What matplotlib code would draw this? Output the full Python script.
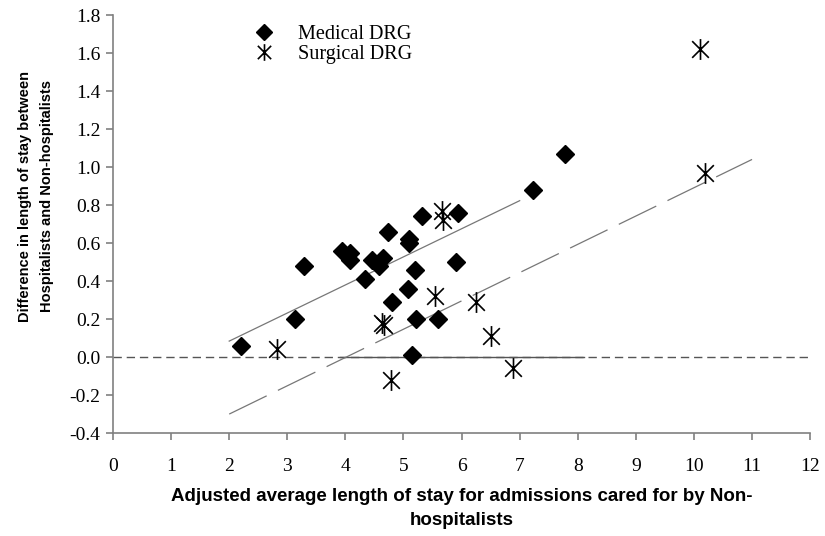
import matplotlib
matplotlib.use("Agg")
import matplotlib.pyplot as plt
from matplotlib.path import Path
from matplotlib.lines import Line2D

# Medical DRG points
med_x = [2.21, 3.13, 3.29, 3.94, 4.08, 4.08, 4.33, 4.45, 4.57, 4.65, 4.73, 4.81,
         5.07, 5.09, 5.09, 5.20, 5.22, 5.15, 5.32, 5.60, 5.93, 5.90, 7.23, 7.78]
med_y = [0.06, 0.20, 0.48, 0.56, 0.55, 0.51, 0.41, 0.51, 0.48, 0.52, 0.66, 0.29,
         0.36, 0.62, 0.60, 0.46, 0.20, 0.01, 0.74, 0.20, 0.76, 0.50, 0.88, 1.07]

# Surgical DRG points
surg_x = [2.82, 4.63, 4.67, 4.78, 5.55, 5.67, 5.68, 6.25, 6.50, 6.89, 10.10, 10.19]
surg_y = [0.04, 0.18, 0.17, -0.12, 0.32, 0.77, 0.72, 0.29, 0.11, -0.06, 1.62, 0.97]

# trend lines (end points)
med_fit_x = [2.0, 7.0]
med_fit_y = [0.084, 0.823]
surg_fit_x = [2.0, 11.0]
surg_fit_y = [-0.30, 1.04]

# zero reference line
zero_x = [0, 12]
zero_solid_x = [3.9, 8.1]

xticks = list(range(0, 13))
yticks = [-0.4, -0.2, 0.0, 0.2, 0.4, 0.6, 0.8, 1.0, 1.2, 1.4, 1.6, 1.8]

plt.rcParams['lines.scale_dashes'] = False

# asterisk marker: vertical bar plus an X
star = Path([(0, -1), (0, 1), (-0.8, -0.8), (0.8, 0.8), (-0.8, 0.8), (0.8, -0.8)],
            [Path.MOVETO, Path.LINETO, Path.MOVETO, Path.LINETO, Path.MOVETO, Path.LINETO])

fig = plt.figure(figsize=(8.25, 5.36), dpi=100)
ax = fig.add_axes([0.137, 0.192, 0.845, 0.78])

ax.plot(zero_x, [0, 0], color='#555555', lw=1.0, dashes=(6, 3.5))
ax.plot(zero_solid_x, [0, 0], color='#555555', lw=1.0)
ax.plot(med_fit_x, med_fit_y, color='#777777', lw=0.9)
ax.plot(surg_fit_x, surg_fit_y, color='#777777', lw=0.9, dashes=(30, 9))

ax.plot(med_x, med_y, ls='none', marker='D', ms=9, color='black', label='Medical DRG')
ax.plot(surg_x, surg_y, ls='none', marker=star, ms=15, mew=1.2, color='black',
        mfc='none', label='Surgical DRG')

ax.set_xlim(0, 12)
ax.set_ylim(-0.4, 1.8)
ax.set_xticks(xticks)
ax.set_yticks(yticks)
ax.set_yticklabels([f"{v:.1f}" for v in yticks])

for side in ['top', 'right']:
    ax.spines[side].set_visible(False)
for side in ['left', 'bottom']:
    ax.spines[side].set_color('#808080')
    ax.spines[side].set_linewidth(1.2)

ax.tick_params(axis='both', direction='out', length=5, width=1.2, color='#808080')
ax.tick_params(axis='x', pad=13)
ax.tick_params(axis='y', pad=4)
for lab in ax.get_xticklabels() + ax.get_yticklabels():
    lab.set_fontfamily('Liberation Serif')
    lab.set_fontsize(14)

ax.set_xlabel("Adjusted average length of stay for admissions cared for by Non-\nhospitalists",
              family='Liberation Sans', weight='bold', size=13.5, linespacing=1.5)
ax.xaxis.set_label_coords(0.5, -0.132)
ax.set_ylabel("Difference in length of stay between\nHospitalists and Non-hospitalists",
              family='Liberation Sans', weight='bold', size=10.5, linespacing=1.7)
ax.yaxis.set_label_coords(-0.085, 0.567)

handles = [Line2D([], [], ls='none', marker='D', ms=8, color='black'),
           Line2D([], [], ls='none', marker=star, ms=12, mew=1.2, color='black')]
ax.legend(handles, ['Medical DRG', 'Surgical DRG'], loc='upper left',
          bbox_to_anchor=(0.19, 0.995), frameon=False,
          prop={'family': 'Liberation Serif', 'size': 14.5},
          handlelength=1.0, handletextpad=1.2, labelspacing=0.05, borderaxespad=0)

fig.savefig('out.png', dpi=100)
